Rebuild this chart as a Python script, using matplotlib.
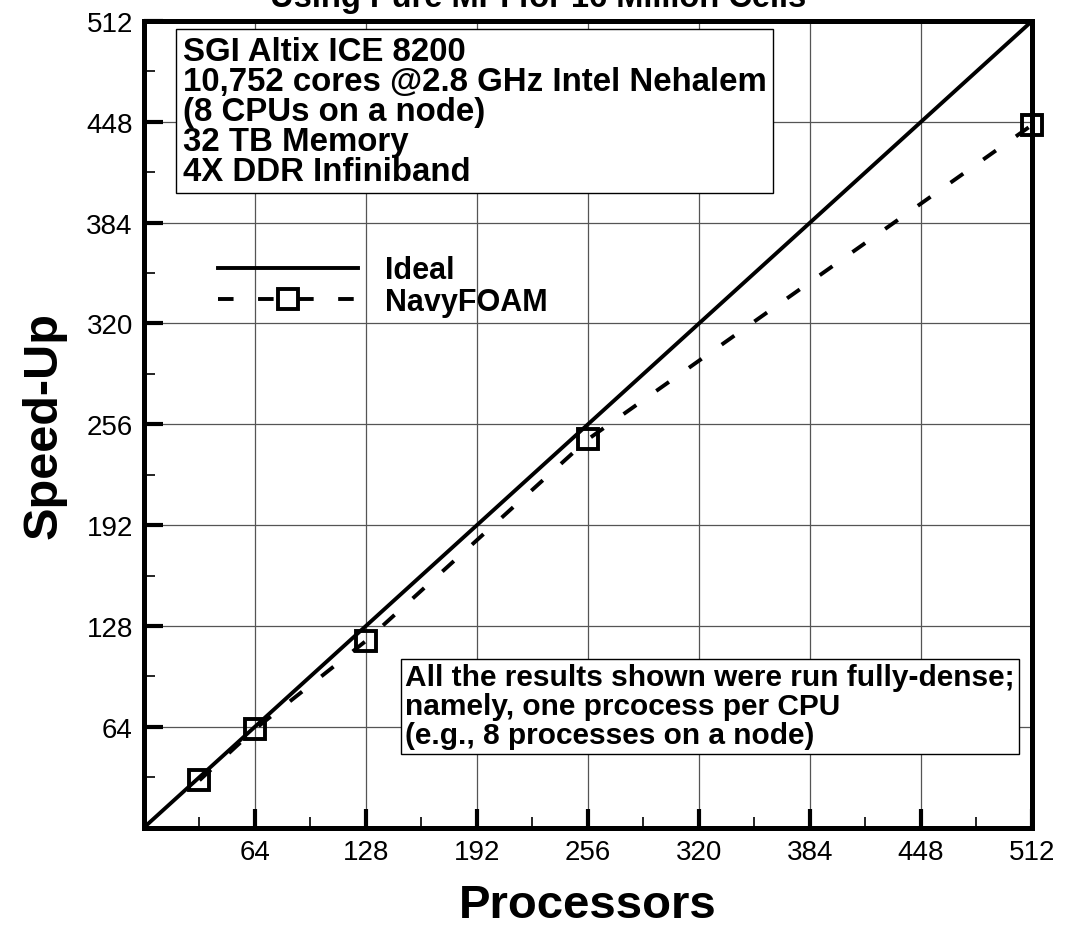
import numpy as np
import matplotlib
matplotlib.use("Agg")
import matplotlib.pyplot as plt
from matplotlib.ticker import MultipleLocator

plt.rcParams['font.family'] = ['Liberation Sans', 'DejaVu Sans']

# Data
procs = [32, 64, 128, 256, 512]
ideal_x = [0, 512]
ideal_y = [0, 512]
navy_speedup = [30, 62.5, 118.5, 246.5, 446]
tick_vals = [64, 128, 192, 256, 320, 384, 448, 512]

fig = plt.figure(figsize=(10.85, 9.28), dpi=100)
ax = fig.add_axes([0.1327, 0.1072, 0.8184, 0.8690])

ax.plot(ideal_x, ideal_y, color='black', lw=2.8, label='Ideal', zorder=3)
ax.plot(procs, navy_speedup, color='black', lw=2.8, ls=(0, (4, 6.3)),
        marker='s', ms=15, mfc='none', mec='black', mew=2.8,
        label='NavyFOAM', zorder=4, clip_on=False)

ax.set_xlim(0, 512)
ax.set_ylim(0, 512)
ax.set_xticks(tick_vals)
ax.set_yticks(tick_vals)
ax.xaxis.set_minor_locator(MultipleLocator(32))
ax.yaxis.set_minor_locator(MultipleLocator(32))
ax.grid(True, which='major', color='#555555', lw=0.9, zorder=0)

ax.tick_params(which='major', direction='in', length=14, width=3,
               labelsize=20, pad=8)
ax.tick_params(which='minor', direction='in', length=8, width=1.2)
for s in ax.spines.values():
    s.set_linewidth(3.6)
    s.set_zorder(5)

ax.set_xlabel('Processors', fontsize=34, fontweight='bold', labelpad=13)
ax.set_ylabel('Speed-Up', fontsize=35, fontweight='bold', labelpad=14)

leg = ax.legend(loc='upper left', bbox_to_anchor=(0.052, 0.7436), frameon=False,
                prop={'size': 22, 'weight': 'bold'}, handlelength=4.6,
                handletextpad=0.88, labelspacing=0.05)

box_txt = ("SGI Altix ICE 8200\n10,752 cores @2.8 GHz Intel Nehalem\n"
           "(8 CPUs on a node)\n32 TB Memory\n4X DDR Infiniband")
ax.text(0.0434, 0.982, box_txt, transform=ax.transAxes, ha='left', va='top',
        fontsize=23.8, fontweight='bold', linespacing=0.96, zorder=6,
        bbox=dict(boxstyle='square,pad=0.2', fc='white', ec='black', lw=1))

note_txt = ("All the results shown were run fully-dense;\n"
            "namely, one prcocess per CPU\n(e.g., 8 processes on a node)")
ax.text(0.294, 0.2034, note_txt, transform=ax.transAxes, ha='left', va='top',
        fontsize=21.5, fontweight='bold', linespacing=1.04, zorder=6,
        bbox=dict(boxstyle='square,pad=0.15', fc='white', ec='black', lw=1))

fig.text(0.496, 1 - 7 / 928, 'Using Pure MPI for 16 Million Cells',
         ha='center', va='baseline', fontsize=23.5, fontweight='bold')

fig.savefig('out.png', dpi=100)
